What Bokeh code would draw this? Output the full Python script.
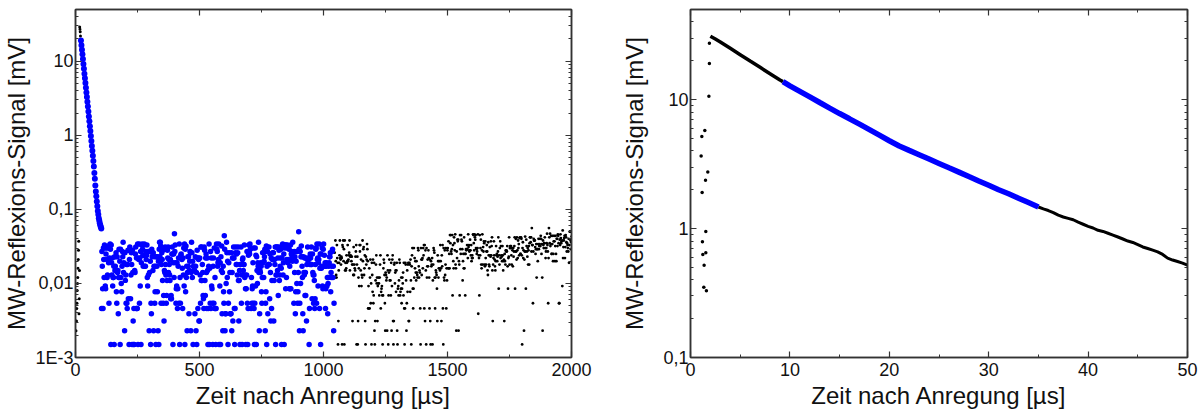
import numpy as np
from bokeh.plotting import figure
from bokeh.models import Range1d, FixedTicker, LinearAxis, LogAxis
from bokeh.layouts import row
from bokeh.embed import file_html
from bokeh.resources import INLINE

FONT = "Liberation Sans"
BLUE = "#0000FF"
INK = "#000000"
FRAME = "#333333"
TEXT = "#111111"

X_LABEL = "Zeit nach Anregung [µs]"
Y_LABEL = "MW-Reflexions-Signal [mV]"

# ---------------- left panel (0 .. 2000 µs) ----------------
left_x_ticks = [0, 500, 1000, 1500, 2000]
left_x_minor = [250, 750, 1250, 1750]
left_y_ticks = [1e-3, 1e-2, 1e-1, 1, 10]
left_y_labels = ["1E-3", "0,01", "0,1", "1", "10"]

# black points before the blue decay
left_pre_t = [2, 4, 5, 6, 7, 8, 9, 10, 11, 12, 13, 14, 15, 16, 17, 18, 19, 20]
left_pre_y = [0.0023, 0.0031, 0.0046, 0.0054, 0.008, 0.01, 0.012, 0.016, 0.021,
              0.028, 0.037, 0.0039, 0.0062, 0.015, 29, 27, 25, 22]

# blue decay
left_decay_t = [22, 24, 26, 28, 30, 32, 34, 36, 38, 40, 42, 44, 46, 48, 50, 52, 54,
                56, 58, 60, 62, 64, 66, 68, 70, 72, 74, 76, 78, 80, 82, 84, 86, 88,
                90, 92, 94, 96, 98, 100, 102, 104]
left_decay_y = [19, 16.5, 14.3, 12.4, 10.7, 9.2, 7.9, 6.8, 5.9, 5.1, 4.4, 3.8, 3.3,
                2.85, 2.45, 2.1, 1.8, 1.55, 1.33, 1.14, 0.98, 0.84, 0.72, 0.62, 0.53,
                0.45, 0.38, 0.31, 0.26, 0.21, 0.175, 0.15, 0.128, 0.11, 0.095, 0.085,
                0.076, 0.07, 0.065, 0.061, 0.058, 0.055]

# blue noise, two interleaved sample sets, each every 3 µs
left_blue_a_t0, left_blue_b_t0, left_blue_dt = 105, 106.5, 3
left_blue_a_y = [
    0.0046, 0.017, 0.0046, 0.021, 0.033, 0.0092, 0.025, 0.021, 0.013, 0.021, 0.0054, 0.033, 0.029, 0.033, 0.013, 0.0092,
    0.012, 0.0015, 0.015, 0.023, 0.0077, 0.023, 0.015, 0.012, 0.012, 0.0015, 0.012, 0.0077, 0.027, 0.036, 0.019, 0.0023,
    0.011, 0.0054, 0.0054, 0.018, 0.0062, 0.0015, 0.031, 0.0062, 0.026, 0.0015, 0.014, 0.0015, 0.0015, 0.014, 0.031, 0.022,
    0.0046, 0.0015, 0.021, 0.0054, 0.0092, 0.0015, 0.033, 0.029, 0.017, 0.033, 0.017, 0.017, 0.021, 0.033, 0.0092, 0.013,
    0.0023, 0.027, 0.0015, 0.0039, 0.023, 0.015, 0.0023, 0.023, 0.0077, 0.0015, 0.023, 0.0077, 0.0023, 0.0015, 0.036, 0.036,
    0.0054, 0.026, 0.011, 0.0054, 0.0031, 0.014, 0.018, 0.0054, 0.011, 0.022, 0.014, 0.018, 0.011, 0.0062, 0.0062, 0.031,
    0.0015, 0.025, 0.047, 0.033, 0.0054, 0.0092, 0.0046, 0.017, 0.0054, 0.0015, 0.0054, 0.025, 0.021, 0.0046, 0.013, 0.0092,
    0.0015, 0.0077, 0.012, 0.0023, 0.023, 0.023, 0.015, 0.027, 0.0023, 0.036, 0.012, 0.0015, 0.015, 0.015, 0.023, 0.0023,
    0.0015, 0.022, 0.022, 0.0031, 0.022, 0.0054, 0.011, 0.011, 0.014, 0.0062, 0.031, 0.011, 0.022, 0.014, 0.022, 0.0015,
    0.017, 0.0015, 0.0054, 0.0046, 0.0092, 0.0054, 0.017, 0.0054, 0.0046, 0.0046, 0.0046, 0.029, 0.017, 0.021, 0.0015, 0.0092,
    0.0015, 0.015, 0.0039, 0.0023, 0.0077, 0.044, 0.0023, 0.0039, 0.036, 0.012, 0.0015, 0.019, 0.0077, 0.0039, 0.0039, 0.0023,
    0.022, 0.022, 0.022, 0.0015, 0.026, 0.018, 0.018, 0.026, 0.011, 0.011, 0.0015, 0.018, 0.0054, 0.0015, 0.022, 0.018,
    0.033, 0.013, 0.0015, 0.013, 0.0054, 0.0046, 0.033, 0.025, 0.029, 0.0046, 0.0054, 0.0092, 0.0054, 0.0046, 0.0054, 0.0092,
    0.0015, 0.015, 0.019, 0.036, 0.0023, 0.015, 0.019, 0.0077, 0.012, 0.019, 0.012, 0.023, 0.0023, 0.0077, 0.0015, 0.027,
    0.018, 0.031, 0.0062, 0.014, 0.022, 0.011, 0.026, 0.026, 0.011, 0.018, 0.0015, 0.031, 0.031, 0.022, 0.031, 0.011,
    0.017, 0.029, 0.0015, 0.033, 0.013, 0.025, 0.033, 0.033, 0.033, 0.021, 0.033, 0.021, 0.029, 0.017, 0.033, 0.025,
    0.023, 0.036, 0.023, 0.027, 0.023, 0.0077, 0.027, 0.027, 0.0077, 0.05, 0.0023, 0.027, 0.023, 0.023, 0.012, 0.0023,
    0.014, 0.022, 0.014, 0.022, 0.018, 0.031, 0.022, 0.0015, 0.018, 0.022, 0.031, 0.0062, 0.014, 0.0054, 0.011, 0.0062,
    0.029, 0.0054, 0.021, 0.0092, 0.021, 0.0046, 0.025, 0.025, 0.017, 0.0092, 0.029, 0.017, 0.017, 0.0046, 0.017, 0.0092,
    0.0039, 0.012, 0.019, 0.023, 0.0077, 0.012, 0.027, 0.012, 0.0023,
]
left_blue_b_y = [
    0.027, 0.0085, 0.03, 0.012, 0.03, 0.0085, 0.03, 0.012, 0.03, 0.019, 0.022, 0.034, 0.0015, 0.019, 0.022, 0.012,
    0.017, 0.023, 0.017, 0.026, 0.0054, 0.014, 0.0039, 0.029, 0.02, 0.029, 0.01, 0.017, 0.023, 0.014, 0.026, 0.026,
    0.013, 0.018, 0.0046, 0.028, 0.028, 0.021, 0.028, 0.013, 0.018, 0.028, 0.0031, 0.0046, 0.015, 0.025, 0.0046, 0.0046,
    0.034, 0.022, 0.034, 0.022, 0.027, 0.019, 0.034, 0.024, 0.024, 0.034, 0.024, 0.027, 0.024, 0.012, 0.027, 0.027,
    0.014, 0.02, 0.0054, 0.029, 0.026, 0.026, 0.017, 0.0054, 0.017, 0.023, 0.017, 0.023, 0.02, 0.029, 0.023, 0.032,
    0.018, 0.021, 0.028, 0.0069, 0.015, 0.031, 0.013, 0.0069, 0.028, 0.031, 0.021, 0.013, 0.021, 0.0069, 0.025, 0.025,
    0.019, 0.012, 0.027, 0.019, 0.0085, 0.019, 0.0085, 0.022, 0.034, 0.012, 0.024, 0.022, 0.016, 0.022, 0.03, 0.034,
    0.029, 0.032, 0.017, 0.014, 0.017, 0.0039, 0.02, 0.026, 0.014, 0.026, 0.02, 0.017, 0.017, 0.0039, 0.017, 0.014,
    0.028, 0.0046, 0.021, 0.0031, 0.013, 0.031, 0.031, 0.018, 0.0069, 0.0046, 0.028, 0.0069, 0.025, 0.0046, 0.015, 0.0046,
    0.034, 0.016, 0.027, 0.022, 0.0085, 0.0015, 0.022, 0.03, 0.012, 0.0015, 0.034, 0.027, 0.019, 0.034, 0.019, 0.019,
    0.023, 0.032, 0.014, 0.017, 0.0054, 0.029, 0.0039, 0.01, 0.026, 0.02, 0.0054, 0.026, 0.014, 0.0039, 0.026, 0.014,
    0.0031, 0.031, 0.0046, 0.0046, 0.031, 0.025, 0.013, 0.031, 0.0031, 0.015, 0.018, 0.031, 0.013, 0.021, 0.015, 0.018,
    0.012, 0.0085, 0.0085, 0.027, 0.0015, 0.024, 0.027, 0.034, 0.03, 0.012, 0.0085, 0.019, 0.03, 0.0015, 0.03, 0.024,
    0.023, 0.01, 0.017, 0.014, 0.0039, 0.014, 0.017, 0.0054, 0.026, 0.026, 0.02, 0.029, 0.0054, 0.032, 0.017, 0.0039,
    0.018, 0.018, 0.025, 0.0031, 0.0046, 0.021, 0.021, 0.0031, 0.021, 0.031, 0.013, 0.013, 0.015, 0.0069, 0.028, 0.013,
    0.022, 0.016, 0.022, 0.034, 0.019, 0.0015, 0.03, 0.0085, 0.012, 0.03, 0.019, 0.03, 0.0085, 0.0085, 0.0085, 0.027,
    0.02, 0.023, 0.0054, 0.014, 0.0039, 0.02, 0.01, 0.0054, 0.014, 0.029, 0.0054, 0.01, 0.032, 0.017, 0.0039, 0.023,
    0.013, 0.0069, 0.0069, 0.0031, 0.021, 0.021, 0.021, 0.0046, 0.025, 0.018, 0.018, 0.025, 0.013, 0.013, 0.0046, 0.018,
    0.03, 0.034, 0.022, 0.019, 0.034, 0.016, 0.0015, 0.016, 0.03, 0.0085, 0.034, 0.024, 0.019, 0.0085, 0.019, 0.012,
    0.01, 0.017, 0.023, 0.026, 0.014, 0.017, 0.029, 0.017, 0.0054,
]

# black noise, two interleaved sample sets, each every 3 µs
left_black_a_t0, left_black_b_t0, left_black_dt = 1045, 1046.5, 3
left_black_a_y = [
    0.026, 0.038, 0.013, 0.033, 0.019, 0.0031, 0.019, 0.038, 0.021, 0.023,
    0.0015, 0.031, 0.02, 0.0015, 0.015, 0.015, 0.024, 0.02, 0.02, 0.024,
    0.038, 0.023, 0.023, 0.023, 0.0031, 0.013, 0.013, 0.016, 0.023, 0.033,
    0.018, 0.0015, 0.012, 0.0092, 0.027, 0.015, 0.0092, 0.012, 0.02, 0.031,
    0.016, 0.0031, 0.023, 0.021, 0.029,
    0.0046, 0.0046, 0.0046, 0.021, 0.01,
    0.019, 0.0077, 0.0054, 0.019, 0.0015, 0.011, 0.024, 0.012, 0.0092, 0.012,
    0.0069, 0.018, 0.0046, 0.0085, 0.0069, 0.0069, 0.021, 0.013, 0.0023, 0.013,
    0.012, 0.024, 0.0015, 0.014, 0.011, 0.011, 0.019, 0.0092, 0.024, 0.0015,
    0.018, 0.01, 0.015, 0.015, 0.0023, 0.0085, 0.0069, 0.021, 0.0069, 0.0085,
    0.0054, 0.012, 0.014, 0.019, 0.0015, 0.019, 0.011, 0.0054, 0.0077, 0.019,
    0.0031, 0.018,
    0.021, 0.0015, 0.024, 0.0085, 0.0085, 0.012, 0.016, 0.014,
    0.02, 0.013, 0.03, 0.017, 0.015, 0.0046, 0.03, 0.013, 0.022, 0.03,
    0.033, 0.033, 0.028, 0.0015, 0.012, 0.021, 0.028, 0.012, 0.021, 0.0015,
    0.017, 0.022, 0.011, 0.03, 0.026, 0.0046, 0.015, 0.013, 0.0031, 0.02,
    0.016, 0.016, 0.033, 0.016, 0.024, 0.033, 0.0015, 0.012, 0.028, 0.018,
    0.0046, 0.011,
    0.03, 0.037, 0.025, 0.045, 0.045, 0.025, 0.045, 0.033,
    0.016, 0.035, 0.046, 0.016, 0.027, 0.039, 0.039, 0.02, 0.0069, 0.029,
    0.045, 0.037, 0.011, 0.025, 0.042, 0.025, 0.025, 0.028, 0.033, 0.022,
    0.031, 0.027, 0.039, 0.024, 0.02, 0.024, 0.046, 0.035, 0.046, 0.039,
    0.03, 0.025, 0.03, 0.0039, 0.022, 0.045, 0.03, 0.018, 0.028, 0.018,
    0.027, 0.035,
    0.017, 0.022, 0.027, 0.027, 0.013, 0.024, 0.017, 0.024,
    0.037, 0.032, 0.015, 0.018, 0.037, 0.021, 0.015, 0.032, 0.025, 0.023,
    0.042, 0.024, 0.03, 0.022, 0.024, 0.02, 0.024, 0.02, 0.0031, 0.02,
    0.028, 0.028, 0.032, 0.0085, 0.023, 0.018, 0.032, 0.032, 0.018, 0.028,
    0.03, 0.027, 0.042, 0.027, 0.027, 0.042, 0.022, 0.03, 0.024, 0.042,
    0.025, 0.04, 0.0015, 0.036, 0.028, 0.021, 0.043, 0.0085, 0.032, 0.023,
    0.018, 0.032,
    0.035, 0.042, 0.042, 0.056, 0.033, 0.027, 0.038, 0.038,
    0.025, 0.034, 0.029, 0.02, 0.04, 0.032, 0.04, 0.044, 0.025, 0.012,
    0.038, 0.03, 0.035, 0.03, 0.027, 0.035, 0.033, 0.0054, 0.056, 0.035,
    0.032, 0.044, 0.025, 0.044, 0.025, 0.044, 0.02, 0.044, 0.02, 0.04,
    0.046, 0.035, 0.0054, 0.033, 0.041, 0.037, 0.0092, 0.022, 0.038, 0.044,
    0.031, 0.042, 0.027, 0.033, 0.027, 0.019, 0.05, 0.038, 0.036,
]
left_black_b_y = [
    0.012, 0.02, 0.012, 0.022, 0.0015, 0.015, 0.024, 0.022, 0.018, 0.022,
    0.033, 0.038, 0.029, 0.038, 0.019, 0.016, 0.019, 0.033, 0.021, 0.026,
    0.015, 0.024, 0.02, 0.018, 0.018, 0.031, 0.018, 0.015, 0.027, 0.0015,
    0.023, 0.0031, 0.016, 0.033, 0.033, 0.021, 0.013, 0.038, 0.029, 0.013,
    0.024, 0.0015, 0.018, 0.034, 0.02,
    0.0092, 0.016, 0.012, 0.0054, 0.0015,
    0.013, 0.021, 0.0069, 0.0023, 0.0031, 0.018, 0.01, 0.0031, 0.01, 0.01,
    0.012, 0.024, 0.0077, 0.0092, 0.0015, 0.016, 0.019, 0.0054, 0.014, 0.011,
    0.0023, 0.015, 0.0069, 0.021, 0.015, 0.0069, 0.0023, 0.021, 0.0031, 0.0031,
    0.019, 0.014, 0.0077, 0.019, 0.0015, 0.0092, 0.011, 0.019, 0.0077, 0.012,
    0.0085, 0.01, 0.0069, 0.0046, 0.0046, 0.018, 0.0023, 0.015, 0.018, 0.0031,
    0.019, 0.0077,
    0.011, 0.017, 0.03, 0.0046, 0.03, 0.022, 0.02, 0.011,
    0.014, 0.012, 0.028, 0.012, 0.014, 0.0015, 0.021, 0.021, 0.016, 0.024,
    0.0046, 0.0031, 0.015, 0.03, 0.017, 0.017, 0.022, 0.0046, 0.0031, 0.02,
    0.018, 0.0015, 0.018, 0.028, 0.012, 0.012, 0.014, 0.0085, 0.024, 0.012,
    0.02, 0.015, 0.02, 0.0031, 0.017, 0.0046, 0.03, 0.011, 0.013, 0.03,
    0.016, 0.028,
    0.016, 0.016, 0.016, 0.035, 0.027, 0.029, 0.0069, 0.02,
    0.042, 0.028, 0.018, 0.0023, 0.022, 0.037, 0.0023, 0.018, 0.045, 0.025,
    0.039, 0.029, 0.02, 0.016, 0.016, 0.0069, 0.029, 0.029, 0.029, 0.046,
    0.033, 0.028, 0.028, 0.033, 0.022, 0.022, 0.045, 0.028, 0.042, 0.045,
    0.029, 0.027, 0.046, 0.024, 0.0069, 0.024, 0.039, 0.016, 0.046, 0.031,
    0.037, 0.018,
    0.037, 0.018, 0.033, 0.015, 0.036, 0.018, 0.031, 0.023,
    0.024, 0.042, 0.0031, 0.022, 0.024, 0.017, 0.02, 0.024, 0.02, 0.027,
    0.0085, 0.018, 0.037, 0.032, 0.023, 0.032, 0.015, 0.021, 0.025, 0.018,
    0.027, 0.027, 0.017, 0.022, 0.042, 0.03, 0.03, 0.024, 0.03, 0.017,
    0.023, 0.032, 0.0085, 0.04, 0.021, 0.028, 0.038, 0.034, 0.041, 0.025,
    0.042, 0.024, 0.03, 0.022, 0.0023, 0.027, 0.027, 0.039, 0.027, 0.03,
    0.028, 0.018,
    0.042, 0.036, 0.027, 0.033, 0.0054, 0.04, 0.038, 0.031,
    0.029, 0.012, 0.029, 0.034, 0.029, 0.034, 0.032, 0.04, 0.034, 0.0023,
    0.033, 0.035, 0.042, 0.022, 0.03, 0.047, 0.027, 0.022, 0.042, 0.047,
    0.034, 0.025, 0.034, 0.02, 0.037, 0.037, 0.032, 0.025, 0.04, 0.032,
    0.044, 0.0054, 0.039, 0.046, 0.035, 0.038, 0.052, 0.031, 0.041, 0.022,
    0.045, 0.036, 0.035, 0.03, 0.04, 0.033, 0.05, 0.029, 0.043,
]

# ---------------- right panel (0 .. 50 µs) ----------------
right_x_ticks = [0, 10, 20, 30, 40, 50]
right_x_minor = [5, 15, 25, 35, 45]
right_y_ticks = [0.1, 1, 10]
right_y_labels = ["0,1", "1", "10"]

right_pre_t = [1.07, 1.14, 1.17, 1.2, 1.24, 1.34, 1.37, 1.44, 1.51, 1.54, 1.54, 1.6, 1.74, 1.85, 1.9, 1.9]
right_pre_y = [3.65, 5.17, 1.9, 0.79, 0.63, 0.35, 0.52, 5.76, 2.37, 0.95, 0.65, 0.33, 2.74, 10.6, 19.1, 27.4]

right_head_t = [2, 2.5, 3, 4, 5, 6, 7, 8, 9, 9.3]
right_head_y = [31, 29.5, 28, 25, 22.3, 19.9, 17.8, 15.9, 14.2, 13.8]

right_fit_t = [9.3, 10, 11, 12, 13, 14, 15, 16, 17, 18, 19, 20, 21, 22, 23, 24, 25,
               26, 27, 28, 29, 30, 31, 32, 33, 34, 35]
right_fit_y = [13.8, 12.8, 11.6, 10.5, 9.5, 8.6, 7.8, 7.1, 6.45, 5.85, 5.3, 4.8, 4.37,
               4.04, 3.74, 3.46, 3.2, 2.96, 2.74, 2.53, 2.34, 2.17, 2.0, 1.86, 1.72,
               1.59, 1.47]

right_tail_t = [35, 35.5, 36, 36.5, 37, 37.5, 38, 38.5, 39, 39.5, 40, 40.5, 41, 41.5,
                42, 42.5, 43, 43.5, 44, 44.5, 45, 45.5, 46, 46.5, 47, 47.5, 48, 48.5,
                49, 49.5, 50]
right_tail_y = [1.47, 1.42, 1.38, 1.33, 1.27, 1.23, 1.2, 1.17, 1.12, 1.08, 1.04, 1.01,
                0.97, 0.95, 0.92, 0.89, 0.86, 0.83, 0.8, 0.78, 0.75, 0.72, 0.7, 0.68,
                0.66, 0.63, 0.59, 0.57, 0.555, 0.54, 0.52]


def log_minor(e0, e1):
    return [m * 10.0 ** e for e in range(e0, e1 + 1) for m in range(2, 10)]


def style_axis(ax, labels=True):
    ax.axis_line_color = FRAME
    ax.axis_line_width = 1.5
    ax.major_tick_in = 6
    ax.major_tick_out = 0
    ax.minor_tick_in = 3
    ax.minor_tick_out = 0
    ax.major_tick_line_color = FRAME
    ax.minor_tick_line_color = FRAME
    ax.major_tick_line_width = 1.2
    ax.minor_tick_line_width = 1
    if labels:
        ax.major_label_text_font = FONT
        ax.major_label_text_font_size = "18px"
        ax.major_label_text_color = TEXT
        ax.axis_label_text_font = FONT
        ax.axis_label_text_font_size = "24px"
        ax.axis_label_text_font_style = "normal"
        ax.axis_label_text_color = TEXT
    else:
        ax.major_label_text_font_size = "0px"
        ax.major_label_text_color = None
        ax.major_label_standoff = 0


def make_panel(width, x_range, y_range, xt, xm, yt, ym, ylabels, border_left,
               border_right, ylab_standoff):
    p = figure(width=width, height=414, x_range=Range1d(*x_range),
               y_range=Range1d(*y_range), y_axis_type="log",
               output_backend="svg", toolbar_location=None,
               min_border_left=border_left, min_border_right=border_right,
               min_border_top=9, min_border_bottom=57)
    p.xgrid.visible = False
    p.ygrid.visible = False
    p.outline_line_color = FRAME
    p.outline_line_width = 1.5
    p.background_fill_color = "white"
    p.border_fill_color = "white"

    xa = p.xaxis[0]
    xa.ticker = FixedTicker(ticks=xt, minor_ticks=xm)
    xa.axis_label = X_LABEL
    style_axis(xa)
    xa.major_label_standoff = 5
    xa.axis_label_standoff = 3

    ya = p.yaxis[0]
    ya.ticker = FixedTicker(ticks=yt, minor_ticks=ym)
    ya.major_label_overrides = dict(zip(yt, ylabels))
    ya.axis_label = Y_LABEL
    style_axis(ya)
    ya.major_label_standoff = 2
    ya.axis_label_standoff = ylab_standoff

    top = LinearAxis(ticker=FixedTicker(ticks=xt, minor_ticks=xm))
    style_axis(top, labels=False)
    p.add_layout(top, "above")
    right = LogAxis(ticker=FixedTicker(ticks=yt, minor_ticks=ym))
    style_axis(right, labels=False)
    p.add_layout(right, "right")
    return p


def sample_times(t0, dt, values):
    return t0 + dt * np.arange(len(values))


pl = make_panel(600, (0, 2000), (1e-3, 50), left_x_ticks, left_x_minor,
                left_y_ticks, log_minor(-3, 1), left_y_labels, 73, 29, 2)

pl.scatter(left_pre_t, left_pre_y, size=3, fill_color=INK, line_color=None)
pl.scatter(sample_times(left_black_a_t0, left_black_dt, left_black_a_y), left_black_a_y,
           size=2.8, fill_color=INK, line_color=None)
pl.scatter(sample_times(left_black_b_t0, left_black_dt, left_black_b_y), left_black_b_y,
           size=2.8, fill_color=INK, line_color=None)
pl.scatter(left_decay_t, left_decay_y, size=6, fill_color=BLUE, line_color=None)
pl.scatter(sample_times(left_blue_a_t0, left_blue_dt, left_blue_a_y), left_blue_a_y,
           size=5.5, fill_color=BLUE, line_color=None)
pl.scatter(sample_times(left_blue_b_t0, left_blue_dt, left_blue_b_y), left_blue_b_y,
           size=5.5, fill_color=BLUE, line_color=None)

pr = make_panel(601, (0, 50), (0.1, 50), right_x_ticks, right_x_minor,
                right_y_ticks, log_minor(-1, 1), right_y_labels, 90, 14, 12)

pr.scatter(right_pre_t, right_pre_y, size=3.5, fill_color=INK, line_color=None)
pr.line(right_head_t, right_head_y, line_width=3.5, line_color=INK)
pr.line(right_tail_t, right_tail_y, line_width=3, line_color=INK)
pr.line(right_fit_t, right_fit_y, line_width=5.5, line_color=BLUE)

layout = row(pl, pr)
open("out.html", "w").write(file_html(layout, INLINE))
